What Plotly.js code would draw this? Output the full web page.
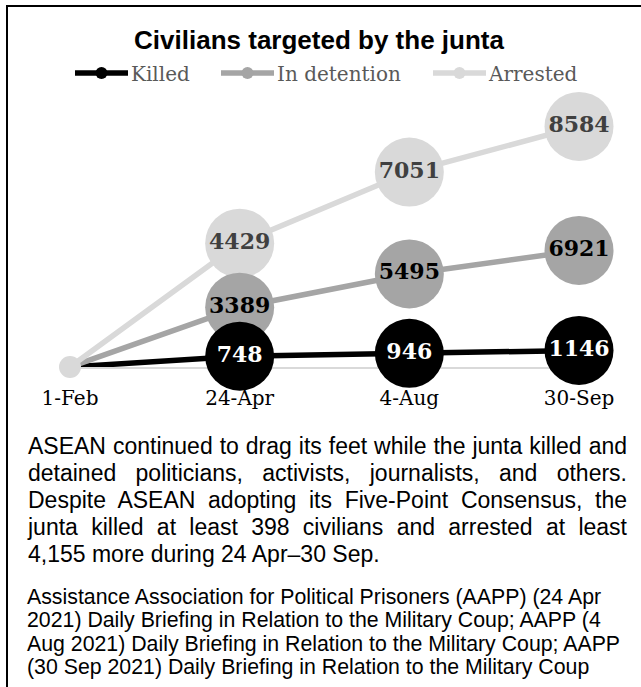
<!DOCTYPE html>
<html>
<head>
<meta charset="utf-8">
<script src="https://cdn.plot.ly/plotly-3.0.1.min.js"></script>
<style>
  html, body { margin:0; padding:0; background:#fff; }
  #wrap { position:relative; width:641px; height:687px; overflow:hidden; background:#fff; }
  #chart { position:absolute; left:0; top:0; width:641px; height:687px; }
  #frame { position:absolute; left:6px; top:5px; right:-5px; bottom:-5px; border-left:2px solid #000; border-top:2px solid #000; pointer-events:none; }
  #para { position:absolute; left:28px; top:433px; width:599px; font-family:"Liberation Sans", Arial, sans-serif; font-size:23px; line-height:27px; color:#000; }
  #para div { text-align:justify; text-align-last:justify; white-space:nowrap; }
  #para div.last { text-align:left; text-align-last:left; }
  #cite { position:absolute; left:27px; top:586px; width:610px; font-family:"Liberation Sans", Arial, sans-serif; font-size:21.3px; line-height:23.4px; color:#000; white-space:nowrap; }
</style>
</head>
<body>
<div id="wrap">
  <div id="chart"></div>
  <div id="para"></div>
  <div id="cite"></div>
  <div id="frame"></div>
</div>
<script>
// ---- data ----
const dates = ['1-Feb', '24-Apr', '4-Aug', '30-Sep'];
const killed = [0, 748, 946, 1146];
const detention = [0, 3389, 5495, 6921];
const arrested = [0, 4429, 7051, 8584];
const seriesNames = ['Killed', 'In detention', 'Arrested'];
const chartTitle = 'Civilians targeted by the junta';
const paragraphLines = [
  'ASEAN continued to drag its feet while the junta killed and',
  'detained politicians, activists, journalists, and others.',
  'Despite ASEAN adopting its Five-Point Consensus, the',
  'junta killed at least 398 civilians and arrested at least',
  '4,155 more during 24 Apr\u201330 Sep.'
];
const citationLines = [
  'Assistance Association for Political Prisoners (AAPP) (24 Apr',
  '2021) Daily Briefing in Relation to the Military Coup; AAPP (4',
  'Aug 2021) Daily Briefing in Relation to the Military Coup; AAPP',
  '(30 Sep 2021) Daily Briefing in Relation to the Military Coup'
];

// ---- styles ----
const colors = ['#000000', '#A5A5A5', '#D9D9D9'];
const labelColors = ['#FFFFFF', '#000000', '#404040'];
const legendIds = ['legend', 'legend2', 'legend3'];
const legendX = [66, 212, 424];
const bigSize = 69, smallSize = 22;
const allSeries = [killed, detention, arrested];

// Layer 1: stacked lines (all series), carries the legend entries
const lineTraces = allSeries.map((vals, i) => ({
  type: 'scatter',
  x: dates,
  y: vals,
  name: seriesNames[i],
  legend: legendIds[i],
  stackgroup: 'lines',
  fill: 'none',
  mode: 'lines+markers',
  line: { color: colors[i], width: 5.5 },
  marker: { color: colors[i], size: 12, opacity: 1 },
  cliponaxis: false,
  hoverinfo: 'skip'
}));

// Marker layers: each layer stacks the series up to the one it shows,
// so that later series' bubbles sit underneath earlier ones (Office look).
function markTrace(vals, i, shown, group) {
  return {
    type: 'scatter',
    x: dates,
    y: vals,
    name: seriesNames[i],
    showlegend: false,
    stackgroup: group,
    fill: 'none',
    mode: shown ? 'markers+text' : 'markers',
    marker: {
      color: colors[i], opacity: 1, line: { width: 0 },
      size: vals.map((v, j) => !shown ? 0 : (j === 0 ? (i === 2 ? smallSize : 0) : bigSize))
    },
    text: shown ? vals.map((v, j) => j === 0 ? '' : String(v)) : undefined,
    textposition: 'middle center',
    textfont: { family: 'DejaVu Serif', size: 22, weight: 'bold', color: labelColors[i] },
    cliponaxis: false,
    hoverinfo: 'skip'
  };
}

const markLayers = [];
[2, 1, 0].forEach(top => {
  for (let i = 0; i <= top; i++) {
    markLayers.push(markTrace(allSeries[i], i, i === top, 'marks' + top));
  }
});

const legendBase = {
  orientation: 'h',
  xref: 'container', yref: 'container',
  xanchor: 'left',
  y: 1 - 73 / 687, yanchor: 'middle',
  font: { family: 'DejaVu Serif', size: 20, color: '#595959' },
  itemsizing: 'constant',
  itemwidth: 55,
  bgcolor: 'rgba(0,0,0,0)',
  borderwidth: 0
};

const layout = {
  width: 641,
  height: 687,
  margin: { l: 70, r: 62, t: 100, b: 320 },
  paper_bgcolor: '#ffffff',
  plot_bgcolor: 'rgba(0,0,0,0)',
  showlegend: true,
  title: {
    text: '<b>' + chartTitle + '</b>',
    font: { family: 'Liberation Sans, Arial, sans-serif', size: 26, color: '#000000' },
    x: 319 / 641, xref: 'container', xanchor: 'center',
    y: 1 - 40 / 687, yref: 'container', yanchor: 'middle'
  },
  xaxis: {
    type: 'category',
    categoryorder: 'array',
    categoryarray: dates,
    range: [0, 3],
    showgrid: false,
    zeroline: false,
    showline: true,
    linecolor: '#D9D9D9',
    linewidth: 1.5,
    layer: 'below traces',
    ticks: 'outside',
    ticklen: 12,
    tickcolor: 'rgba(0,0,0,0)',
    tickfont: { family: 'DejaVu Serif', size: 20, color: '#000000' },
    fixedrange: true
  },
  yaxis: {
    visible: false,
    range: [0, 18480],
    showgrid: false,
    zeroline: false,
    fixedrange: true
  }
};
legendIds.forEach((id, i) => {
  layout[id] = Object.assign({}, legendBase, { x: legendX[i] / 641 });
});

Plotly.newPlot('chart', lineTraces.concat(markLayers), layout, { displayModeBar: false, staticPlot: true })
  .then(() => {
    // lengthen legend line symbols to the wide Office-style sample
    document.querySelectorAll('#chart .legendlines path').forEach(p => {
      p.setAttribute('d', 'M9,0h53');
      p.style.strokeWidth = '5.5px';
    });
    document.querySelectorAll('#chart .legendsymbols path.scatterpts').forEach(p => {
      p.setAttribute('transform', 'translate(35.5,0)');
    });
  });

// ---- text blocks ----
const para = document.getElementById('para');
paragraphLines.forEach((t, i) => {
  const d = document.createElement('div');
  d.textContent = t;
  if (i === paragraphLines.length - 1) d.className = 'last';
  para.appendChild(d);
});
document.getElementById('cite').innerHTML = citationLines.join('<br>');
</script>
</body>
</html>
